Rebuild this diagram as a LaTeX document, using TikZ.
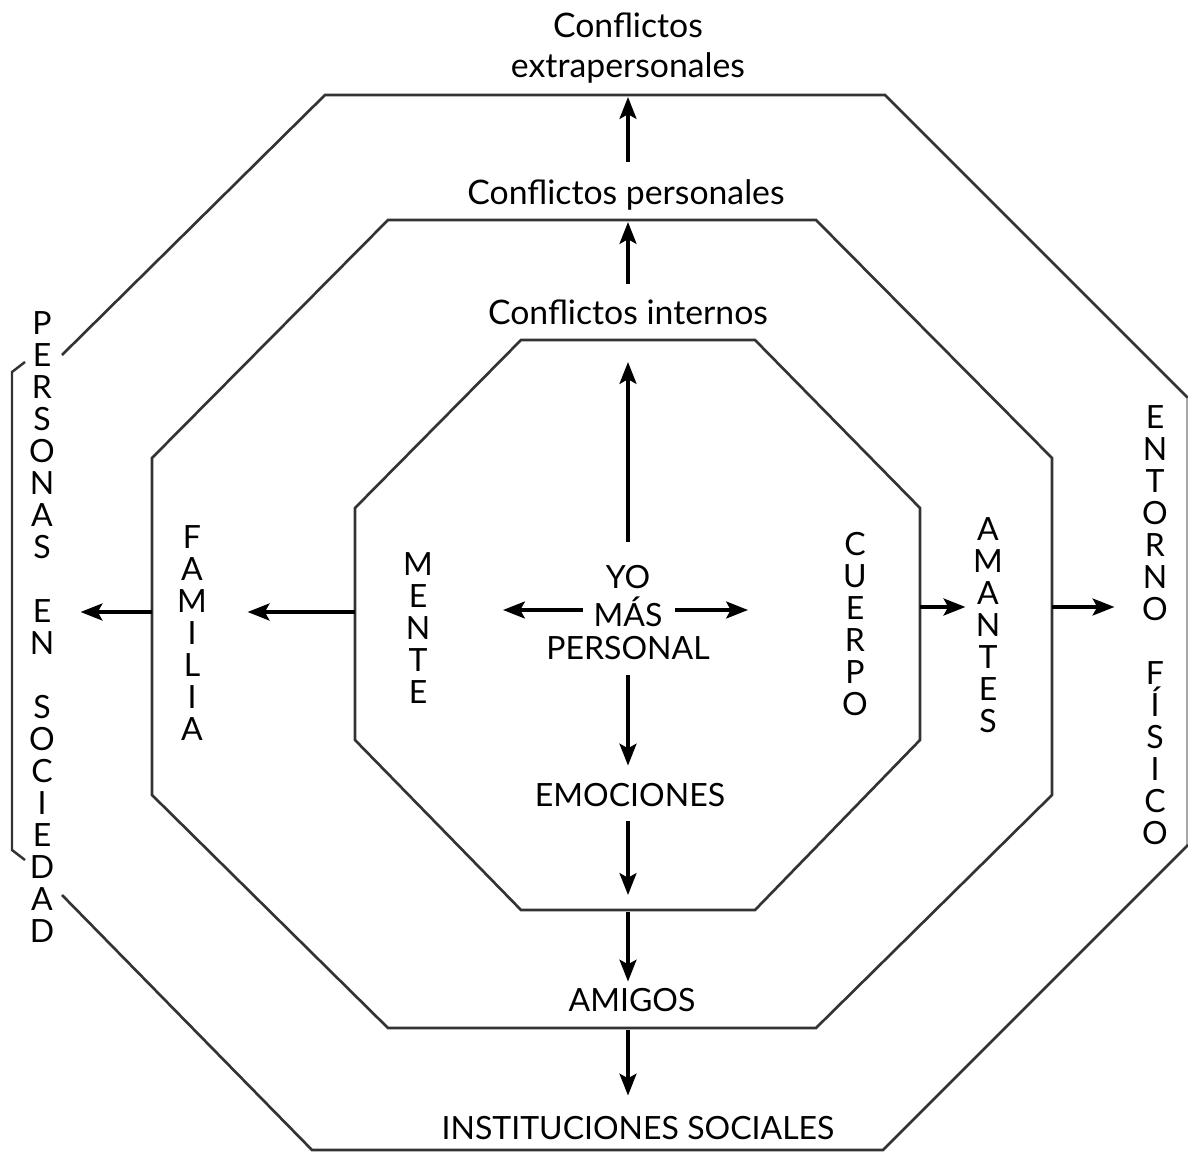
\documentclass[tikz,border=0pt]{standalone}
\usepackage{fontspec}
\setmainfont{Lato}
\usetikzlibrary{arrows.meta}
\begin{document}
\begin{tikzpicture}[x=0.01cm,y=-0.01cm,
  edge/.style={draw=black!80,line width=0.75pt,line join=miter},
  arr/.style={-{Stealth[length=6.2pt,width=4.8pt,inset=1.3pt]},line width=1.05pt},
  lbl/.style={font=\fontsize{9.6}{11.4}\selectfont,inner sep=0pt,align=center},
  caps/.style={font=\fontsize{9.1}{11.4}\selectfont,inner sep=0pt,align=center},
  vlbl/.style={font=\fontsize{9.1}{9.1}\selectfont,inner sep=0pt,align=center}]
\useasboundingbox (0,0) rectangle (1188,1152);
\draw[edge] (62,355) -- (325,95) -- (885,95) -- (1188,398);
\draw[edge,draw=black!35] (1187,398) -- (1187,845);
\draw[edge] (1188,845) -- (883,1150) -- (312,1150) -- (62,895);
\draw[edge] (388,220) -- (816,220) -- (1052,458) -- (1052,795) -- (816,1028) -- (388,1028) -- (152,795) -- (152,458) -- cycle;
\draw[edge] (521,340) -- (755,340) -- (920,508) -- (920,740) -- (755,910) -- (521,910) -- (355,740) -- (355,508) -- cycle;
\draw[line width=0.7pt,black!80] (25,362) -- (12,372) -- (12,850) -- (25,860);
\coordinate (tE) at (628,97);
\coordinate (tP) at (628,222);
\coordinate (tI) at (628,362);
\coordinate (tB) at (628,895);
\coordinate (bI) at (628,912);
\coordinate (bM) at (628,1030);
\coordinate (lI) at (355,612);
\coordinate (lM) at (152,612);
\coordinate (rI) at (920,607);
\coordinate (rM) at (1052,607);
\coordinate (wY) at (503,610);
\coordinate (eY) at (748,610);
\node[lbl] (cx) at (628,48) {Conflictos\\extrapersonales};
\node[lbl] (cp) at (626,195) {Conflictos personales};
\node[lbl] (ci) at (628,312) {Conflictos internos};
\node[caps] (yo) at (628,577) {YO};
\node[caps] (mas) at (628,612) {MÁS};
\node[caps] (pers) at (628,648) {PERSONAL};
\node[caps] (emo) at (630,795) {EMOCIONES};
\node[caps] (ami) at (632,1000) {AMIGOS};
\node[caps] (inst) at (638,1128) {INSTITUCIONES SOCIALES};
\node[vlbl] (soc) at (42,627) {P\\E\\R\\S\\O\\N\\A\\S\\[9.1pt]E\\N\\[9.1pt]S\\O\\C\\I\\E\\D\\A\\D};
\node[vlbl] (fam) at (192,633) {F\\A\\M\\I\\L\\I\\A};
\node[vlbl] (men) at (418,628) {M\\E\\N\\T\\E};
\node[vlbl] (cue) at (855,624) {C\\U\\E\\R\\P\\O};
\node[vlbl] (ama) at (988,625) {A\\M\\A\\N\\T\\E\\S};
\node[vlbl] (ent) at (1155,625) {E\\N\\T\\O\\R\\N\\O\\[9.1pt]F\\Í\\S\\I\\C\\O};
\draw[arr] (yo.north -| tI) ++(0,-23) -- (tI);
\draw[arr] (ci.north -| tP) ++(0,-15) -- (tP);
\draw[arr] (cp.north -| tE) ++(0,-17) -- (tE);
\draw[arr,shorten <=0.15cm,shorten >=0.17cm] (pers.south -| tI) -- (emo.north -| tI);
\draw[arr,shorten <=0.14cm] (emo.south -| tB) -- (tB);
\draw[arr,shorten >=0.06cm] (bI) -- (ami.north -| bI);
\draw[arr,shorten >=0.2cm] (bM) -- (inst.north -| bM);
\draw[arr] (mas.west |- wY) ++(-10,0) -- (wY);
\draw[arr] (mas.east |- eY) ++(12,0) -- (eY);
\draw[arr,shorten >=0.4cm] (lI) -- (lI -| fam.east);
\draw[arr,shorten >=0.25cm] (lM) -- (lM -| soc.east);
\draw[arr,shorten >=0.07cm] (rI) -- (rI -| ama.west);
\draw[arr,shorten >=0.27cm] (rM) -- (rM -| ent.west);
\end{tikzpicture}
\end{document}
